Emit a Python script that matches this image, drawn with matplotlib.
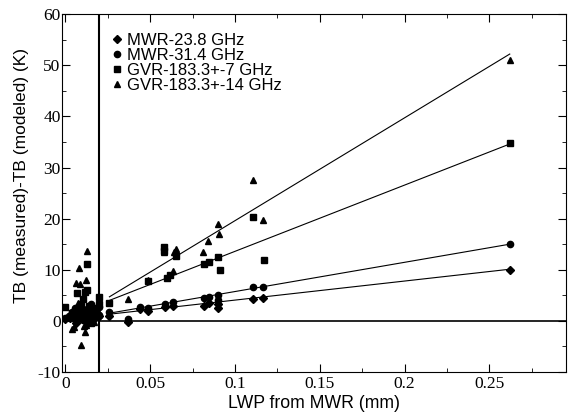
import numpy as np
import matplotlib.pyplot as plt
from matplotlib.ticker import MultipleLocator

plt.rcParams['font.family'] = ['Liberation Sans', 'DejaVu Sans']
plt.rcParams['axes.unicode_minus'] = False

# MWR-23.8 GHz (diamonds)
x_238 = [0, 0.003, 0.005, 0.006, 0.007, 0.008, 0.009, 0.010, 0.011, 0.012, 0.013, 0.015, 0.017, 0.019, 0.020,
         0.0065, 0.0095, 0.0125, 0.0145, 0.016,
         0.026, 0.037, 0.044, 0.049, 0.059, 0.0635, 0.082, 0.085, 0.090, 0.090, 0.1106, 0.1165, 0.262]
y_238 = [0.3, 0.5, 0.8, 1.0, 0.2, 1.2, 0.6, 1.5, 0.4, 1.0, 0.8, 0.5, 1.2, 0.7, 0.9,
         -0.5, 2.2, -0.2, 1.8, 0.0,
         1.0, -0.3, 2.3, 2.0, 2.8, 3.0, 3.0, 3.4, 3.3, 2.5, 4.2, 4.4, 10.0]

# MWR-31.4 GHz (circles)
x_314 = [0, 0.002, 0.004, 0.006, 0.007, 0.008, 0.009, 0.010, 0.011, 0.012, 0.014, 0.016, 0.018, 0.020, 0.020,
         0.0055, 0.0085, 0.0105, 0.013, 0.015,
         0.026, 0.037, 0.044, 0.049, 0.059, 0.0635, 0.082, 0.085, 0.090, 0.090, 0.1106, 0.1165, 0.262]
y_314 = [0.6, 1.0, 1.8, 1.2, 2.0, 0.5, 1.5, 2.4, 1.0, 1.7, 0.6, 1.4, 2.2, 1.2, 2.8,
         2.6, 3.0, 0.2, 2.4, 3.2,
         1.7, 0.3, 2.7, 2.5, 3.3, 3.6, 4.5, 4.6, 5.0, 4.1, 6.6, 6.6, 15.0]

# GVR-183.3+-7 GHz (squares)
x_7 = [0, 0.004, 0.006, 0.007, 0.008, 0.009, 0.010, 0.0118, 0.013, 0.013, 0.014, 0.016, 0.018, 0.020, 0.020,
       0.0075, 0.0105, 0.0125, 0.015, 0.017,
       0.026, 0.049, 0.058, 0.058, 0.060, 0.062, 0.065, 0.082, 0.085, 0.090, 0.091, 0.1106, 0.117, 0.262]
y_7 = [2.7, 1.5, 0.5, 5.4, 2.5, 3.2, 1.8, 5.6, 6.0, 11.1, 3.0, 2.0, 0.8, 4.6, 3.2,
       1.0, 4.2, 1.2, -0.5, 2.6,
       3.5, 7.8, 14.5, 13.6, 8.3, 9.0, 12.6, 11.2, 11.5, 12.4, 9.9, 20.4, 12.0, 34.7]

# GVR-183.3+-14 GHz (triangles)
x_14 = [0.004, 0.005, 0.0065, 0.0082, 0.0088, 0.0094, 0.010, 0.011, 0.0124, 0.013, 0.012, 0.015, 0.017, 0.019,
        0.0075, 0.0115, 0.014,
        0.037, 0.049, 0.058, 0.0635, 0.064, 0.065, 0.081, 0.084, 0.0906, 0.090, 0.1106, 0.1165, 0.262]
y_14 = [-1.5, -1.2, 7.4, 10.3, 7.2, -4.7, 1.0, -1.0, 8.0, 13.6, -0.8, 1.5, -0.3, 2.0,
        3.5, -2.2, 2.8,
        4.3, 8.0, 13.4, 9.7, 13.4, 14.0, 13.4, 15.7, 16.9, 19.0, 27.6, 19.8, 51.0]

# fitted lines
fit_x = [0.026, 0.262]
fit_238 = [1.3, 10.1]
fit_314 = [1.5, 15.0]
fit_7 = [4.0, 34.6]
fit_14 = [4.7, 52.2]

fig = plt.figure(figsize=(5.68, 4.17), dpi=100)
ax = fig.add_axes([0.109, 0.108, 0.887, 0.858])

ms = 4.5
ax.plot(x_238, y_238, 'D', color='black', ms=ms - 0.5, label='MWR-23.8 GHz')
ax.plot(x_314, y_314, 'o', color='black', ms=ms, label='MWR-31.4 GHz')
ax.plot(x_7, y_7, 's', color='black', ms=ms, label='GVR-183.3+-7 GHz')
ax.plot(x_14, y_14, '^', color='black', ms=ms, label='GVR-183.3+-14 GHz')

for f in [fit_238, fit_314, fit_7, fit_14]:
    ax.plot(fit_x, f, color='black', lw=0.8)

ax.axvline(0.02, color='black', lw=1.5)
ax.hlines(0, 0.02, 0.3, color='black', lw=1.2)

ax.set_xlim(-0.002, 0.295)
ax.set_ylim(-10, 60)
ax.set_xticks([0, 0.05, 0.1, 0.15, 0.2, 0.25])
ax.set_xticklabels(['0', '0.05', '0.1', '0.15', '0.2', '0.25'])
ax.xaxis.set_minor_locator(MultipleLocator(0.025))
ax.yaxis.set_major_locator(MultipleLocator(10))
ax.yaxis.set_minor_locator(MultipleLocator(5))
for lab in ax.get_xticklabels() + ax.get_yticklabels():
    lab.set_family('Liberation Serif')
    lab.set_fontsize(12.5)
ax.tick_params(which='both', direction='in', top=True, right=True)
ax.tick_params(which='major', length=6, pad=3)
ax.tick_params(axis='y', pad=1)
ax.tick_params(which='minor', length=3)

ax.set_xlabel('LWP from MWR (mm)', fontsize=12.7, labelpad=2)
ax.set_ylabel('TB (measured)-TB (modeled) (K)', fontsize=12.5)
ax.yaxis.set_label_coords(-0.065, 0.55)

ax.legend(loc='upper left', bbox_to_anchor=(0.07, 0.98), frameon=False, fontsize=12,
          handletextpad=0.1, handlelength=1.0, labelspacing=0.0, borderpad=0.2)

fig.savefig('out.png', dpi=100)
